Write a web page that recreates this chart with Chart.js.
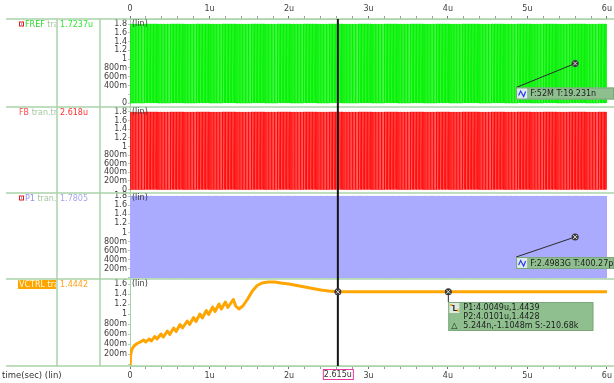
<!DOCTYPE html>
<html>
<head>
<meta charset="utf-8">
<title>PLL transient</title>
<script src="https://cdn.jsdelivr.net/npm/chart.js@4.4.0/dist/chart.umd.min.js"></script>
<style>
  html, body { margin: 0; padding: 0; background: #ffffff; overflow: hidden; }
  canvas { display: block; }
</style>
</head>
<body>
<canvas id="wave" width="614" height="383"></canvas>
<script>
// ---- signal data (time in microseconds, values in volts) ----
const timeSpanUs = [0, 6];
const timeTickLabels = ['0', '1u', '2u', '3u', '4u', '5u', '6u'];

const signalNames = ['FREF', 'FB', 'P1', 'VCTRL'];
const analysisTag = 'tran.tr';
const cursorReadouts = ['1.7237u', '2.618u', '1.7805', '1.4442'];

const clockLevels = [0, 1.8];
const frefPeriodUs = 0.019231;   // T:19.231n
const fbPeriodUs = 0.019231;     // locked to the reference
const p1PeriodUs = 0.00040027;   // T:400.27p

const vctrlTimeUs = [
  0.000, 0.005, 0.020, 0.050, 0.090, 0.130, 0.170, 0.200, 0.240, 0.270,
  0.310, 0.340, 0.390, 0.420, 0.470, 0.500, 0.550, 0.580, 0.630, 0.660,
  0.720, 0.750, 0.800, 0.830, 0.880, 0.910, 0.960, 0.990, 1.040, 1.070,
  1.120, 1.150, 1.200, 1.230, 1.300, 1.330, 1.370, 1.420, 1.480, 1.540,
  1.600, 1.660, 1.740, 1.820, 1.900, 2.000, 2.100, 2.200, 2.300, 2.400,
  2.500, 2.615, 2.800, 3.000, 4.0049, 4.0101, 5.000, 6.000
];
const vctrlVolts = [
  0.00, 0.15, 0.28, 0.36, 0.41, 0.44, 0.48, 0.44, 0.50, 0.46,
  0.55, 0.50, 0.60, 0.54, 0.66, 0.59, 0.72, 0.65, 0.79, 0.72,
  0.86, 0.79, 0.93, 0.85, 1.00, 0.92, 1.07, 0.99, 1.14, 1.05,
  1.20, 1.10, 1.24, 1.13, 1.29, 1.16, 1.10, 1.16, 1.30, 1.46,
  1.57, 1.62, 1.64, 1.64, 1.62, 1.60, 1.57, 1.54, 1.51, 1.48,
  1.46, 1.4442, 1.444, 1.444, 1.4439, 1.4428, 1.444, 1.444
];

const frefMeasure = 'F:52M T:19.231n';
const frefMarker = { t: 5.6, v: 0.9 };
const p1Measure = 'F:2.4983G T:400.27p';
const p1Marker = { t: 5.6, v: 0.9 };
const vctrlMeasure = ['P1:4.0049u,1.4439', 'P2:4.0101u,1.4428', '5.244n,-1.1048m S:-210.68k'];
const vctrlMarker = { t: 4.0049, v: 1.4439 };

const cursorTimeUs = 2.615;
const cursorLabel = '2.615u';
const cursorValue = 1.4442;
const xAxisTitle = 'time(sec) (lin)';
const scaleTag = '(lin)';

// ---- styling ----
const FONT = { family: 'DejaVu Sans', size: 8 };
const FONT_CSS = '8px "DejaVu Sans"';
const AXIS = '#a9d3a9';
const TICK_TEXT = '#404040';

// square-wave edge list for a clock of the given period
function clockEdges(periodUs, lo, hi) {
  const pts = [];
  const n = Math.ceil((timeSpanUs[1] - timeSpanUs[0]) / periodUs);
  for (let k = 0; k < n; k++) {
    const t0 = timeSpanUs[0] + k * periodUs;
    const th = t0 + periodUs / 2;
    pts.push({ x: t0, y: lo }, { x: t0, y: hi }, { x: th, y: hi }, { x: th, y: lo });
  }
  return pts;
}

function voltLabel(v) {
  const r = Math.round(v * 1000) / 1000;
  if (Math.abs(r) < 1e-9) return '0';
  if (r < 1) return Math.round(r * 1000) + 'm';
  return String(parseFloat(r.toFixed(1)));
}

function panelAxis(min, max, weight, order, hidden) {
  return {
    type: 'linear', position: 'left', stack: 'panels', stackWeight: weight, weight: order,
    min: min, max: max,
    border: { color: AXIS, width: 1 },
    grid: { drawOnChartArea: false, drawTicks: true, tickLength: 2, color: AXIS },
    ticks: {
      stepSize: 0.2, includeBounds: false, autoSkip: false, padding: 1,
      color: TICK_TEXT, font: FONT,
      callback: (v) => {
        const lbl = voltLabel(v);
        return hidden.includes(lbl) ? '' : lbl;
      }
    },
    afterFit: (s) => { s.width = 130; }
  };
}

function timeAxis(position, height) {
  return {
    type: 'linear', position: position, min: timeSpanUs[0], max: timeSpanUs[1],
    border: { color: AXIS, width: 1 },
    grid: {
      drawOnChartArea: false, drawTicks: true, tickLength: 3,
      tickColor: (c) => (Math.abs(c.tick.value - Math.round(c.tick.value)) < 1e-6 ? '#707070' : '#9a9a9a')
    },
    ticks: {
      stepSize: 0.2, autoSkip: false, maxRotation: 0, padding: 2,
      color: TICK_TEXT, font: FONT,
      callback: (v) => {
        const r = Math.round(v);
        return Math.abs(v - r) < 1e-6 ? timeTickLabels[r] : '';
      }
    },
    afterFit: (s) => { s.height = height; }
  };
}

function crossMarker(ctx, x, y) {
  ctx.beginPath();
  ctx.arc(x, y, 3.5, 0, Math.PI * 2);
  ctx.fillStyle = '#3a3a3a';
  ctx.fill();
  ctx.strokeStyle = '#dddddd';
  ctx.lineWidth = 1;
  ctx.beginPath();
  ctx.moveTo(x - 2, y - 2); ctx.lineTo(x + 2, y + 2);
  ctx.moveTo(x + 2, y - 2); ctx.lineTo(x - 2, y + 2);
  ctx.stroke();
}

function sineIcon(ctx, x, y) {
  ctx.fillStyle = '#dfe9ef';
  ctx.fillRect(x, y, 10, 10);
  ctx.strokeStyle = '#2a3cf0';
  ctx.lineWidth = 1.2;
  ctx.beginPath();
  ctx.moveTo(x + 1.5, y + 7);
  ctx.lineTo(x + 3.5, y + 2.5);
  ctx.lineTo(x + 6.5, y + 8);
  ctx.lineTo(x + 8.5, y + 3);
  ctx.stroke();
}

function stepIcon(ctx, x, y) {
  ctx.fillStyle = '#dfe9df';
  ctx.fillRect(x, y, 10, 10);
  ctx.strokeStyle = '#222222';
  ctx.lineWidth = 1.2;
  ctx.beginPath();
  ctx.moveTo(x + 1.5, y + 2.5);
  ctx.lineTo(x + 4.5, y + 2.5);
  ctx.lineTo(x + 4.5, y + 7.5);
  ctx.lineTo(x + 8.5, y + 7.5);
  ctx.stroke();
  ctx.fillStyle = '#f0a020';
  ctx.fillRect(x + 1, y + 1, 2, 2);
  ctx.fillRect(x + 7.5, y + 6.5, 2, 2);
}

function measureBox(ctx, x, y, w, h) {
  ctx.fillStyle = '#8fbf8f';
  ctx.fillRect(x, y, w, h);
  ctx.strokeStyle = '#7aa87a';
  ctx.lineWidth = 1;
  ctx.strokeRect(x + 0.5, y + 0.5, w - 1, h - 1);
}

const overlay = {
  id: 'overlay',
  afterDraw(chart) {
    const { ctx, scales } = chart;
    const xs = scales.x;
    const panels = [scales.yFref, scales.yFb, scales.yP1, scales.yVctrl];
    const W = chart.width;
    ctx.save();

    // panel separators and label columns
    ctx.strokeStyle = AXIS;
    ctx.lineWidth = 1.5;
    ctx.beginPath();
    for (const p of panels) { ctx.moveTo(6, p.top); ctx.lineTo(W, p.top); }
    ctx.moveTo(6, panels[3].bottom); ctx.lineTo(W, panels[3].bottom);
    ctx.moveTo(57, panels[0].top); ctx.lineTo(57, panels[3].bottom);
    ctx.moveTo(100, panels[0].top); ctx.lineTo(100, panels[3].bottom);
    ctx.stroke();

    // signal rows
    ctx.font = FONT_CSS;
    ctx.textBaseline = 'middle';
    ctx.textAlign = 'left';
    const nameColors = ['#2ad82a', '#ff4a4a', '#8f8ff5', '#fffbe0'];
    const valueColors = ['#33e833', '#ff3030', '#a6a6ee', '#ffa31a'];
    const hasIcon = [true, false, true, false];
    panels.forEach((p, i) => {
      const cy = p.top + 5.5;
      let tx = 19;
      if (i === 3) {
        ctx.fillStyle = '#ffa500';
        ctx.fillRect(18, p.top + 1, 38, 9);
      }
      if (hasIcon[i]) {
        ctx.fillStyle = '#e81818';
        ctx.fillRect(19, cy - 3, 5, 5);
        ctx.fillStyle = '#ffffff';
        ctx.fillRect(20, cy - 2, 3, 3);
        ctx.fillStyle = '#2030e0';
        ctx.fillRect(21, cy - 1, 1, 1);
        tx = 25;
      }
      ctx.save();
      ctx.beginPath();
      ctx.rect(0, p.top, 56, 12);
      ctx.clip();
      ctx.fillStyle = nameColors[i];
      ctx.fillText(signalNames[i], tx, cy);
      const nw = ctx.measureText(signalNames[i] + ' ').width;
      ctx.fillStyle = i === 3 ? '#fffbe0' : '#a3c4a3';
      ctx.fillText(analysisTag, tx + nw, cy);
      ctx.restore();
      ctx.fillStyle = valueColors[i];
      ctx.fillText(cursorReadouts[i], 60, cy);

      ctx.fillStyle = '#3a3a3a';
      ctx.fillText(scaleTag, xs.left + 2, p.top + 5);
    });

    // axis title
    ctx.fillStyle = '#333333';
    ctx.font = '8.5px "DejaVu Sans"';
    ctx.fillText(xAxisTitle, 2, panels[3].bottom + 10);
    ctx.font = FONT_CSS;

    // cursor
    const cx = xs.getPixelForValue(cursorTimeUs);
    ctx.strokeStyle = '#151515';
    ctx.lineWidth = 2;
    ctx.beginPath();
    ctx.moveTo(cx, panels[0].top);
    ctx.lineTo(cx, panels[3].bottom);
    ctx.stroke();
    crossMarker(ctx, cx, scales.yVctrl.getPixelForValue(cursorValue));

    // cursor time tag
    ctx.fillStyle = '#ffffff';
    ctx.fillRect(cx - 15, 369, 30, 11);
    ctx.strokeStyle = '#e83c9c';
    ctx.lineWidth = 1;
    ctx.strokeRect(cx - 15 + 0.5, 369.5, 30, 10);
    ctx.fillStyle = '#333333';
    ctx.textAlign = 'center';
    ctx.fillText(cursorLabel, cx, 375);
    ctx.textAlign = 'left';

    // frequency measurements
    [[frefMarker, scales.yFref, frefMeasure, 24], [p1Marker, scales.yP1, p1Measure, 20]].forEach(([m, ys, txt, dy]) => {
      const mx = xs.getPixelForValue(m.t);
      const my = ys.getPixelForValue(m.v);
      const bx = mx - 59, by = my + dy;
      ctx.strokeStyle = '#2a2a2a';
      ctx.lineWidth = 1;
      ctx.beginPath();
      ctx.moveTo(bx, by);
      ctx.lineTo(mx, my);
      ctx.stroke();
      measureBox(ctx, bx, by, W - bx, 12);
      sineIcon(ctx, bx + 1, by + 1);
      ctx.fillStyle = '#1c1c1c';
      ctx.fillText(txt, bx + 14, by + 6.5);
      crossMarker(ctx, mx, my);
    });

    // delta measurement on VCTRL
    const vx = xs.getPixelForValue(vctrlMarker.t);
    const vy = scales.yVctrl.getPixelForValue(vctrlMarker.v);
    ctx.strokeStyle = '#2a2a2a';
    ctx.lineWidth = 1;
    ctx.beginPath();
    ctx.moveTo(vx, vy);
    ctx.lineTo(vx, 302);
    ctx.stroke();
    measureBox(ctx, vx, 302, 145, 29);
    stepIcon(ctx, vx + 1, 303);
    ctx.fillStyle = '#1c1c1c';
    ctx.fillText(vctrlMeasure[0], vx + 15, 308);
    ctx.fillText(vctrlMeasure[1], vx + 15, 317);
    ctx.fillText('\u25B3', vx + 3, 326);
    ctx.fillText(vctrlMeasure[2], vx + 15, 326);
    crossMarker(ctx, vx, vy);

    ctx.restore();
  }
};

const vctrlPoints = vctrlTimeUs.map((t, i) => ({ x: t, y: vctrlVolts[i] }));

new Chart(document.getElementById('wave'), {
  type: 'line',
  data: {
    datasets: [
      {
        label: signalNames[0], data: clockEdges(frefPeriodUs, clockLevels[0], clockLevels[1]),
        xAxisID: 'x', yAxisID: 'yFref', parsing: false,
        borderColor: '#00f000', backgroundColor: '#5cff5c', borderWidth: 0.7, fill: 'origin'
      },
      {
        label: signalNames[1], data: clockEdges(fbPeriodUs, clockLevels[0], clockLevels[1]),
        xAxisID: 'x', yAxisID: 'yFb', parsing: false,
        borderColor: '#ff0000', backgroundColor: '#ff8a8a', borderWidth: 0.6, fill: 'origin'
      },
      {
        label: signalNames[2], data: clockEdges(p1PeriodUs, clockLevels[0], clockLevels[1]),
        xAxisID: 'x', yAxisID: 'yP1', parsing: false,
        borderColor: '#aaaaff', backgroundColor: '#aaaaff', borderWidth: 1, fill: 'origin'
      },
      {
        label: signalNames[3], data: vctrlPoints,
        xAxisID: 'x', yAxisID: 'yVctrl', parsing: false,
        borderColor: '#ffa500', borderWidth: 3, fill: false,
        borderJoinStyle: 'round', borderCapStyle: 'round'
      }
    ]
  },
  options: {
    responsive: false,
    animation: false,
    events: [],
    layout: { padding: { left: 0, right: 4, top: 0, bottom: 0 }, autoPadding: false },
    elements: { point: { radius: 0 }, line: { tension: 0 } },
    plugins: { legend: { display: false }, tooltip: { enabled: false }, title: { display: false } },
    scales: {
      x: timeAxis('bottom', 17),
      xTop: timeAxis('top', 19),
      yFref: panelAxis(-0.091, 1.914, 88, 4, ['200m']),
      yFb: panelAxis(-0.081, 1.916, 86, 3, []),
      yP1: panelAxis(-0.022, 1.866, 86, 2, ['0']),
      yVctrl: panelAxis(-0.04, 1.7, 87, 1, ['0'])
    }
  },
  plugins: [overlay]
});
</script>
</body>
</html>
